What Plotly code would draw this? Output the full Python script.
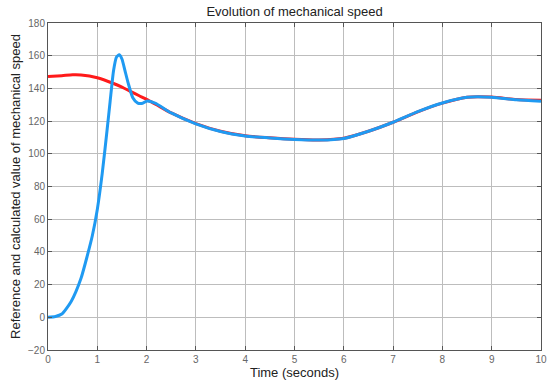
import plotly.graph_objects as go

# Reference speed (red)
t_ref = [0.0, 0.28, 0.5, 0.67, 1.0, 1.33, 1.5, 1.66, 1.85, 2.0, 2.2, 2.5, 3.0, 3.5, 4.0, 4.5, 5.0, 5.5, 6.0, 6.5, 7.0, 7.5, 8.0, 8.5, 9.0, 9.5, 10.0]
w_ref = [147.3, 147.8, 148.3, 148.2, 146.5, 143.0, 140.8, 138.3, 135.5, 133.3, 130.0, 125.0, 118.5, 113.8, 111.0, 109.8, 108.9, 108.5, 109.5, 113.8, 119.3, 125.7, 131.0, 134.6, 134.7, 133.2, 132.7]

# Calculated speed (blue)
t_calc = [0.0, 0.15, 0.28, 0.47, 0.67, 0.80, 0.90, 1.0, 1.10, 1.20, 1.26, 1.33, 1.39, 1.447, 1.50, 1.56, 1.625, 1.72, 1.82, 1.92, 2.0, 2.17, 2.5, 3.0, 3.5, 4.0, 4.5, 5.0, 5.5, 6.0, 6.5, 7.0, 7.5, 8.0, 8.5, 9.0, 9.5, 10.0]
w_calc = [0.0, 0.5, 2.0, 9.7, 23.9, 38.0, 50.0, 66.0, 88.0, 115.0, 132.0, 151.0, 159.2, 160.6, 158.0, 151.0, 143.4, 134.3, 131.0, 130.9, 132.2, 131.0, 125.0, 118.3, 113.6, 110.9, 109.7, 108.8, 108.4, 109.4, 113.8, 119.3, 125.8, 131.1, 134.6, 134.6, 133.0, 132.1]

x_ticks = list(range(0, 11))
y_ticks = list(range(-20, 181, 20))

FONT = "Liberation Sans, Arial, sans-serif"

fig = go.Figure()
fig.add_trace(go.Scatter(x=t_ref, y=w_ref, mode="lines",
                         line=dict(color="#ff1a1a", width=3, shape="spline", smoothing=0.7),
                         showlegend=False))
fig.add_trace(go.Scatter(x=t_calc, y=w_calc, mode="lines",
                         line=dict(color="#1f9af2", width=3, shape="spline", smoothing=0.6),
                         showlegend=False))

axis_common = dict(showgrid=True, gridcolor="#bdbdbd", gridwidth=1,
                   showline=True, linecolor="#555555", linewidth=1, mirror="ticks",
                   ticks="inside", ticklen=4, tickcolor="#555555",
                   zeroline=False,
                   tickfont=dict(family=FONT, size=10, color="#666666"))

fig.update_xaxes(range=[0, 10], tickvals=x_ticks,
                 title=dict(text="Time (seconds)", standoff=3,
                            font=dict(family=FONT, size=13, color="#222222")),
                 **axis_common)
fig.update_yaxes(range=[-20, 180], tickvals=y_ticks,
                 title=dict(text="Reference and calculated value of mechanical speed", standoff=4,
                            font=dict(family=FONT, size=13, color="#222222")),
                 **axis_common)

fig.update_layout(
    width=559, height=389,
    margin=dict(l=48, r=18, t=23, b=37),
    paper_bgcolor="white", plot_bgcolor="white",
    title=dict(text="Evolution of mechanical speed", x=0.527, xanchor="center", y=0.97, yanchor="middle",
               font=dict(family=FONT, size=13, color="#222222")),
)

fig.write_html("out.html")
